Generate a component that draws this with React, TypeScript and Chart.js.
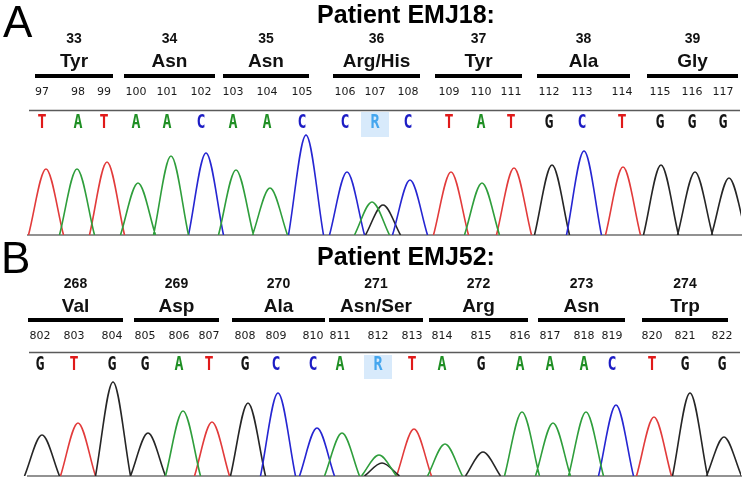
import React, { useEffect, useRef } from "react";
import { Chart, registerables } from "chart.js";

Chart.register(...registerables);

// ---------------- Panel A : Patient EMJ18 ----------------
const titleA = "Patient EMJ18:";
const basesA = ["T", "A", "T", "A", "A", "C", "A", "A", "C", "C", "R", "C", "T", "A", "T", "G", "C", "T", "G", "G", "G"];
const positionsA = [97, 98, 99, 100, 101, 102, 103, 104, 105, 106, 107, 108, 109, 110, 111, 112, 113, 114, 115, 116, 117];
const baseScanA = [42, 78, 104, 136, 167, 201, 233, 267, 302, 345, 375, 408, 449, 481, 511, 549, 582, 622, 660, 692, 723];
const codonNumbersA = [33, 34, 35, 36, 37, 38, 39];
const aminoAcidsA = ["Tyr", "Asn", "Asn", "Arg/His", "Tyr", "Ala", "Gly"];
const codonStartA = [35, 124, 223, 333, 435, 537, 647];
const codonEndA = [113, 215, 309, 420, 522, 630, 738];
const peakBaseA = ["T", "A", "T", "A", "A", "C", "A", "A", "C", "C", "A", "G", "C", "T", "A", "T", "G", "C", "T", "G", "G", "G"];
const peakScanA = [46, 77, 107, 138, 171, 206, 236, 270, 306, 347, 372, 383, 410, 451, 482, 514, 552, 584, 623, 661, 695, 729];
const peakHeightA = [660, 660, 730, 520, 790, 820, 650, 470, 1000, 630, 330, 300, 550, 630, 520, 670, 700, 840, 680, 700, 630, 570];

// ---------------- Panel B : Patient EMJ52 ----------------
const titleB = "Patient EMJ52:";
const basesB = ["G", "T", "G", "G", "A", "T", "G", "C", "C", "A", "R", "T", "A", "G", "A", "A", "A", "C", "T", "G", "G"];
const positionsB = [802, 803, 804, 805, 806, 807, 808, 809, 810, 811, 812, 813, 814, 815, 816, 817, 818, 819, 820, 821, 822];
const baseScanB = [40, 74, 112, 145, 179, 209, 245, 276, 313, 340, 378, 412, 442, 481, 520, 550, 584, 612, 652, 685, 722];
const codonNumbersB = [268, 269, 270, 271, 272, 273, 274];
const aminoAcidsB = ["Val", "Asp", "Ala", "Asn/Ser", "Arg", "Asn", "Trp"];
const codonStartB = [28, 134, 232, 329, 429, 538, 642];
const codonEndB = [123, 219, 325, 423, 528, 625, 728];
const peakBaseB = ["G", "T", "G", "G", "A", "T", "G", "C", "C", "A", "A", "G", "T", "A", "G", "A", "A", "A", "C", "T", "G", "G"];
const peakScanB = [42, 78, 113, 148, 183, 212, 248, 278, 317, 342, 379, 382, 414, 445, 483, 522, 553, 586, 616, 654, 690, 724];
const peakHeightB = [410, 530, 940, 430, 650, 540, 730, 830, 480, 430, 210, 130, 470, 320, 240, 640, 530, 640, 710, 590, 830, 390];

// ---------------- styles ----------------
const TRACE_COLORS: Record<string, string> = { A: "#2f9e3c", C: "#2626d2", G: "#262626", T: "#e23b3b" };
const LETTER_COLORS: Record<string, string> = { A: "#1f8f24", C: "#1c1cc4", G: "#141414", T: "#e01a1a", R: "#45a6ee" };
const PEAK_HALF_WIDTH = 17.5;
const TRACE_START = 27;
const TRACE_END = 742;
const SANS = '"Liberation Sans", Arial, Helvetica, sans-serif';

type PanelDef = {
  letter: string; title: string; bases: string[]; positions: number[]; baseScan: number[];
  codonNumbers: number[]; aminoAcids: string[]; codonStart: number[]; codonEnd: number[];
  peakBase: string[]; peakScan: number[]; peakHeight: number[];
  height: number;
  lay: { labelX: number; labelY: number; titleY: number; codonY: number; aaY: number; barY: number; posY: number; sepY: number; letterY: number; boxTop: number; boxBottom: number };
};

const panels: PanelDef[] = [
  {
    letter: "A", title: titleA, bases: basesA, positions: positionsA, baseScan: baseScanA,
    codonNumbers: codonNumbersA, aminoAcids: aminoAcidsA, codonStart: codonStartA, codonEnd: codonEndA,
    peakBase: peakBaseA, peakScan: peakScanA, peakHeight: peakHeightA,
    height: 241,
    lay: { labelX: 3, labelY: 37, titleY: 23, codonY: 43, aaY: 67, barY: 76, posY: 95, sepY: 110.5, letterY: 128, boxTop: 112, boxBottom: 137 },
  },
  {
    letter: "B", title: titleB, bases: basesB, positions: positionsB, baseScan: baseScanB,
    codonNumbers: codonNumbersB, aminoAcids: aminoAcidsB, codonStart: codonStartB, codonEnd: codonEndB,
    peakBase: peakBaseB, peakScan: peakScanB, peakHeight: peakHeightB,
    height: 239,
    lay: { labelX: 1, labelY: 32, titleY: 24, codonY: 47, aaY: 71, barY: 79, posY: 98, sepY: 111.5, letterY: 129, boxTop: 114, boxBottom: 138 },
  },
];

function buildDatasets(p: PanelDef) {
  return ["A", "C", "G", "T"].map((b) => {
    const data: { x: number; y: number | null }[] = [];
    p.peakScan.forEach((s, i) => {
      if (p.peakBase[i] !== b) return;
      data.push({ x: s - PEAK_HALF_WIDTH, y: 0 }, { x: s, y: p.peakHeight[i] }, { x: s + PEAK_HALF_WIDTH, y: 0 }, { x: s + PEAK_HALF_WIDTH, y: null });
    });
    return {
      label: b,
      data,
      borderColor: TRACE_COLORS[b],
      borderWidth: 1.6,
      pointRadius: 0,
      fill: false,
      cubicInterpolationMode: "monotone" as const,
      spanGaps: false,
    };
  });
}

function makePlugin(p: PanelDef) {
  return {
    id: "seqAnnot" + p.letter,
    beforeDatasetsDraw(chart: any) {
      const ctx = chart.ctx as CanvasRenderingContext2D;
      const xs = chart.scales.x;
      const ys = chart.scales.y;
      ctx.save();
      // highlight box behind ambiguous base
      p.bases.forEach((b, i) => {
        if (b !== "R") return;
        const cx = xs.getPixelForValue(p.baseScan[i]);
        ctx.fillStyle = "#d8eafb";
        ctx.fillRect(cx - 14, p.lay.boxTop, 28, p.lay.boxBottom - p.lay.boxTop);
      });
      // baseline
      const y0 = ys.getPixelForValue(0);
      ctx.strokeStyle = "#6e6e6e";
      ctx.lineWidth = 1.5;
      ctx.beginPath();
      ctx.moveTo(xs.getPixelForValue(TRACE_START), y0);
      ctx.lineTo(xs.getPixelForValue(TRACE_END), y0);
      ctx.stroke();
      ctx.restore();
    },
    afterDraw(chart: any) {
      const ctx = chart.ctx as CanvasRenderingContext2D;
      const xs = chart.scales.x;
      const L = p.lay;
      ctx.save();
      // panel letter
      ctx.fillStyle = "#000";
      ctx.textAlign = "left";
      ctx.textBaseline = "alphabetic";
      ctx.font = `44px ${SANS}`;
      ctx.fillText(p.letter, L.labelX, L.labelY);
      // title
      ctx.textAlign = "center";
      ctx.font = `bold 25px ${SANS}`;
      ctx.fillText(p.title, 406, L.titleY);
      // codons
      p.codonNumbers.forEach((n, i) => {
        const x0 = xs.getPixelForValue(p.codonStart[i]);
        const x1 = xs.getPixelForValue(p.codonEnd[i]);
        const cx = (x0 + x1) / 2;
        ctx.fillStyle = "#111";
        ctx.font = `bold 14px ${SANS}`;
        ctx.fillText(String(n), cx, L.codonY);
        ctx.font = `bold 19px ${SANS}`;
        ctx.fillText(p.aminoAcids[i], cx, L.aaY);
        ctx.fillStyle = "#000";
        ctx.fillRect(x0, L.barY - 2, x1 - x0, 4);
      });
      // position numbers
      ctx.fillStyle = "#1a1a1a";
      ctx.font = '11px "DejaVu Sans", Verdana, sans-serif';
      p.positions.forEach((n, i) => {
        ctx.fillText(String(n), xs.getPixelForValue(p.baseScan[i]), L.posY);
      });
      // separator
      ctx.strokeStyle = "#5a5a5a";
      ctx.lineWidth = 1.5;
      ctx.beginPath();
      ctx.moveTo(xs.getPixelForValue(TRACE_START + 2), L.sepY);
      ctx.lineTo(xs.getPixelForValue(TRACE_END - 2), L.sepY);
      ctx.stroke();
      // base letters
      ctx.font = 'bold 15px "DejaVu Sans Mono", monospace';
      p.bases.forEach((b, i) => {
        ctx.save();
        ctx.translate(xs.getPixelForValue(p.baseScan[i]), L.letterY);
        ctx.scale(1, 1.3);
        ctx.fillStyle = LETTER_COLORS[b];
        ctx.fillText(b, 0, 0);
        ctx.restore();
      });
      ctx.restore();
    },
  };
}

function Panel({ p }: { p: PanelDef }) {
  const ref = useRef<HTMLCanvasElement>(null);
  useEffect(() => {
    const chart = new Chart(ref.current as HTMLCanvasElement, {
      type: "line",
      data: { datasets: buildDatasets(p) as any },
      options: {
        animation: false,
        responsive: false,
        devicePixelRatio: 1,
        events: [],
        layout: { padding: { left: 0, right: 9, top: 0, bottom: p.height - 235 } },
        scales: {
          x: { type: "linear", min: 0, max: 741, display: false },
          y: { type: "linear", min: 0, max: 2350, display: false },
        },
        plugins: { legend: { display: false }, tooltip: { enabled: false } },
      },
      plugins: [makePlugin(p)],
    });
    return () => chart.destroy();
  }, [p]);
  return <canvas ref={ref} width={750} height={p.height} style={{ display: "block", width: 750, height: p.height }} />;
}

export default function App() {
  return (
    <div style={{ position: "absolute", left: 0, top: 0, width: 750, height: 480, background: "#fff", overflow: "hidden" }}>
      {panels.map((p) => (
        <Panel key={p.letter} p={p} />
      ))}
    </div>
  );
}
